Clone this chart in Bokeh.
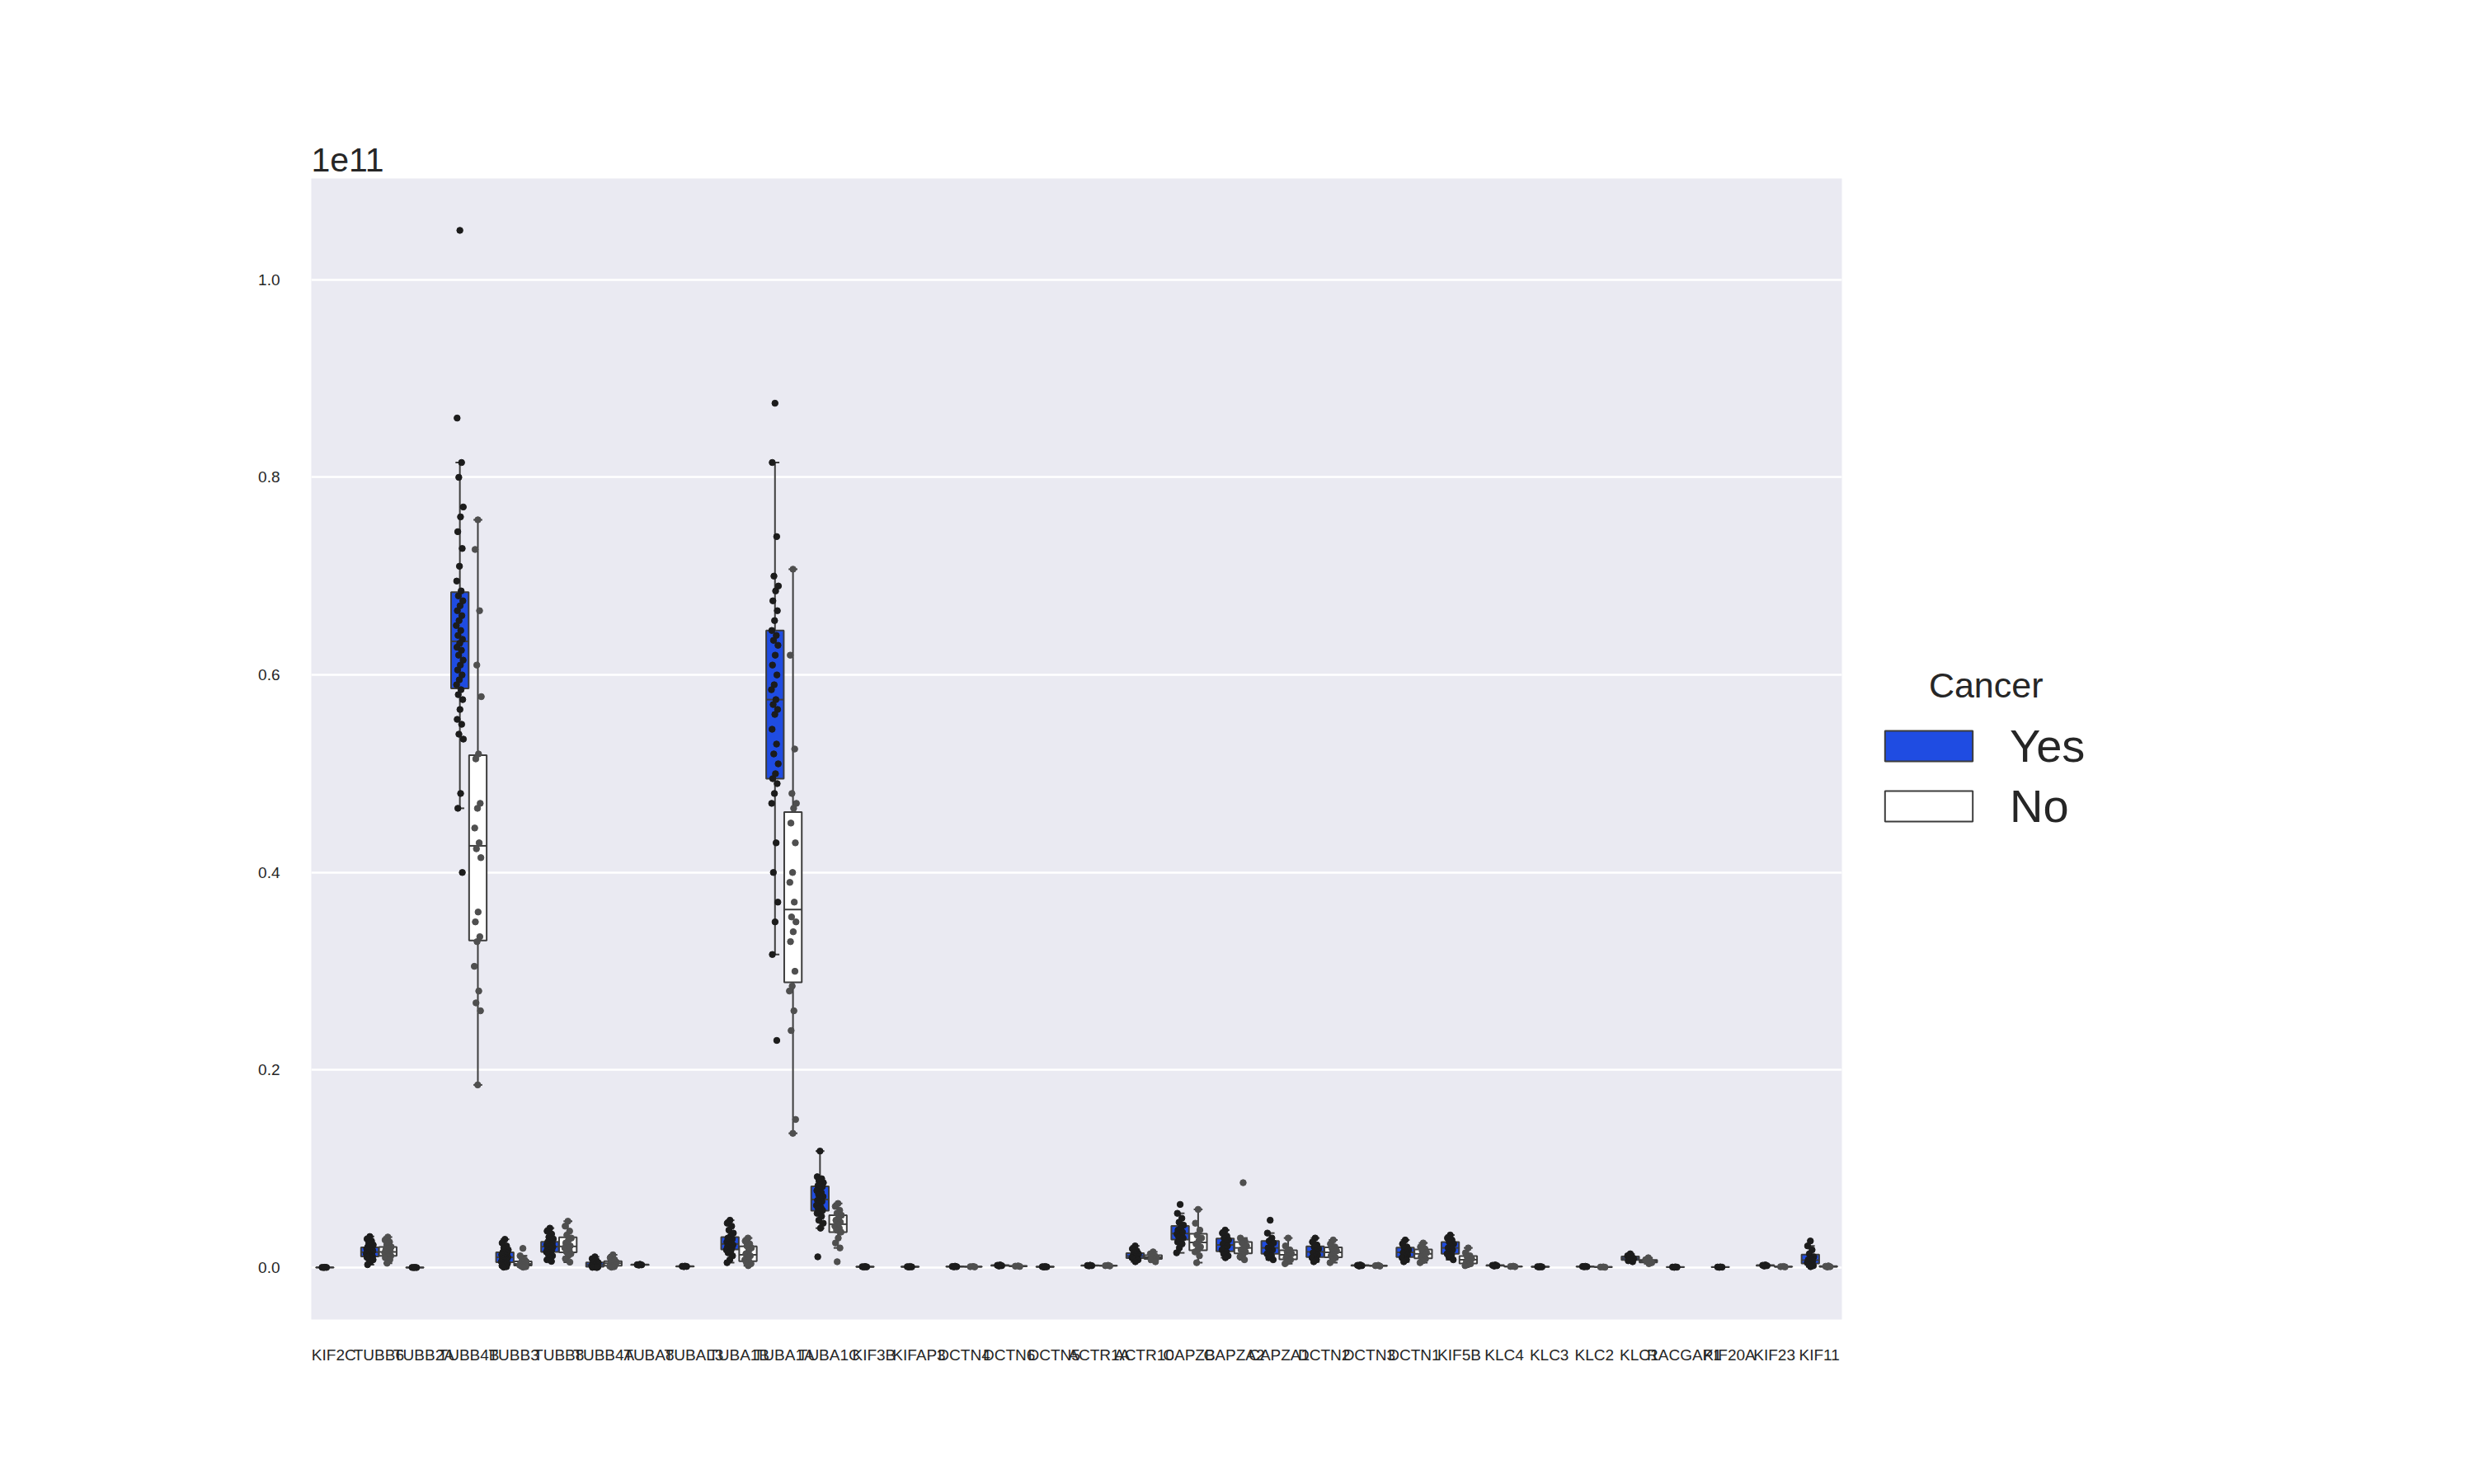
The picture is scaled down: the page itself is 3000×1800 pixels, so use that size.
import numpy as np
from bokeh.plotting import figure
from bokeh.models import Range1d, FixedTicker, Legend, LegendItem, ColumnDataSource
from bokeh.embed import file_html
from bokeh.resources import INLINE

# ---------------- data (values in units of 1e11) ----------------
genes = ["KIF2C", "TUBB6", "TUBB2A", "TUBB4B", "TUBB3", "TUBB8", "TUBB4A", "TUBA8",
         "TUBAL3", "TUBA1B", "TUBA1A", "TUBA1C", "KIF3B", "KIFAP3", "DCTN4", "DCTN6",
         "DCTN5", "ACTR1A", "ACTR10", "CAPZB", "CAPZA2", "CAPZA1", "DCTN2", "DCTN3",
         "DCTN1", "KIF5B", "KLC4", "KLC3", "KLC2", "KLC1", "RACGAP1", "KIF20A", "KIF23", "KIF11"]
hue_levels = ["Yes", "No"]
legend_title = "Cancer"

kif2c_yes = [0.0004, 0.0003, 0.0002, 0.0001]
kif2c_no = []
tubb6_yes = [0.0315, 0.029, 0.027, 0.025, 0.023, 0.022, 0.021, 0.0205, 0.02, 0.019, 0.018, 0.0175, 0.017, 0.016,
             0.0155, 0.015, 0.0145, 0.014, 0.013, 0.012, 0.0115, 0.011, 0.0105, 0.01, 0.009, 0.008, 0.006, 0.003]
tubb6_no = [0.031, 0.028, 0.026, 0.023, 0.021, 0.02, 0.018, 0.017, 0.016, 0.015, 0.014, 0.013, 0.012, 0.0115,
            0.01, 0.008, 0.0045]
tubb2a_yes = [0.0003, 0.0002, 0.0001, 0.0]
tubb2a_no = []
tubb4b_yes = [1.05, 0.86, 0.815, 0.80, 0.77, 0.76, 0.745, 0.728, 0.71, 0.695, 0.685, 0.68, 0.675, 0.67, 0.665,
              0.66, 0.655, 0.65, 0.645, 0.64, 0.636, 0.632, 0.628, 0.625, 0.62, 0.615, 0.61, 0.605, 0.60, 0.595,
              0.59, 0.585, 0.58, 0.575, 0.565, 0.555, 0.55, 0.54, 0.535, 0.48, 0.465, 0.40]
tubb4b_no = [0.757, 0.727, 0.665, 0.61, 0.578, 0.52, 0.515, 0.47, 0.465, 0.445, 0.43, 0.424, 0.415, 0.36,
             0.35, 0.335, 0.33, 0.305, 0.28, 0.268, 0.26, 0.185]
tubb3_yes = [0.0287, 0.025, 0.022, 0.02, 0.018, 0.016, 0.0155, 0.015, 0.014, 0.013, 0.012, 0.011, 0.0105, 0.01,
             0.009, 0.008, 0.007, 0.006, 0.0055, 0.005, 0.004, 0.003, 0.002, 0.001, 0.0005]
tubb3_no = [0.0195, 0.012, 0.008, 0.0065, 0.006, 0.005, 0.004, 0.0035, 0.003, 0.0025, 0.002, 0.0015, 0.001, 0.0005]
tubb8_yes = [0.040, 0.037, 0.034, 0.031, 0.029, 0.027, 0.026, 0.025, 0.024, 0.023, 0.022, 0.0215, 0.021, 0.02,
             0.019, 0.018, 0.017, 0.016, 0.0155, 0.014, 0.012, 0.01, 0.008, 0.0064]
tubb8_no = [0.047, 0.042, 0.037, 0.033, 0.03, 0.028, 0.025, 0.022, 0.021, 0.02, 0.018, 0.016, 0.014, 0.012,
            0.009, 0.0056]
tubb4a_yes = [0.011, 0.009, 0.007, 0.006, 0.005, 0.0045, 0.004, 0.003, 0.0025, 0.002, 0.0015, 0.001, 0.0008,
              0.0005, 0.0003, 0.0001]
tubb4a_no = [0.013, 0.01, 0.008, 0.006, 0.0055, 0.005, 0.004, 0.003, 0.002, 0.0015, 0.001, 0.0005]
tuba8_yes = [0.0035, 0.003, 0.0028, 0.0025]
tuba8_no = []
tubal3_yes = [0.0016, 0.0014, 0.0012, 0.001]
tubal3_no = []
tuba1b_yes = [0.048, 0.045, 0.042, 0.038, 0.035, 0.032, 0.03, 0.029, 0.028, 0.026, 0.025, 0.024, 0.023, 0.022,
              0.021, 0.02, 0.019, 0.018, 0.017, 0.015, 0.012, 0.008, 0.005]
tuba1b_no = [0.03, 0.027, 0.024, 0.022, 0.02, 0.017, 0.014, 0.012, 0.01, 0.008, 0.006, 0.005, 0.004, 0.002]
tuba1a_yes = [0.875, 0.815, 0.74, 0.70, 0.69, 0.685, 0.675, 0.665, 0.655, 0.645, 0.64, 0.635, 0.63, 0.62, 0.61,
              0.6, 0.59, 0.585, 0.575, 0.57, 0.565, 0.56, 0.545, 0.53, 0.52, 0.51, 0.50, 0.495, 0.49, 0.48,
              0.47, 0.43, 0.40, 0.37, 0.35, 0.317, 0.23]
tuba1a_no = [0.707, 0.62, 0.525, 0.48, 0.47, 0.465, 0.45, 0.43, 0.40, 0.39, 0.37, 0.355, 0.35, 0.34, 0.33,
             0.30, 0.285, 0.28, 0.26, 0.24, 0.15, 0.136]
tuba1c_yes = [0.118, 0.092, 0.09, 0.088, 0.086, 0.084, 0.083, 0.082, 0.08, 0.078, 0.076, 0.074, 0.072, 0.07,
              0.068, 0.067, 0.065, 0.063, 0.061, 0.06, 0.058, 0.057, 0.055, 0.052, 0.048, 0.045, 0.04, 0.011]
tuba1c_no = [0.065, 0.062, 0.058, 0.055, 0.053, 0.05, 0.048, 0.046, 0.044, 0.042, 0.04, 0.038, 0.036, 0.03,
             0.025, 0.02, 0.006]
kif3b_yes = [0.0012, 0.001, 0.0008, 0.0006]
kif3b_no = []
kifap3_yes = [0.0012, 0.001, 0.0008, 0.0006]
kifap3_no = []
dctn4_yes = [0.0015, 0.0012, 0.001, 0.0008]
dctn4_no = [0.0012, 0.001, 0.0008]
dctn6_yes = [0.0028, 0.0024, 0.002, 0.0016]
dctn6_no = [0.0018, 0.0015, 0.0012]
dctn5_yes = [0.0012, 0.001, 0.0008, 0.0006]
dctn5_no = []
actr1a_yes = [0.0025, 0.0022, 0.002, 0.0017]
actr1a_no = [0.0024, 0.002, 0.0017]
actr10_yes = [0.022, 0.019, 0.017, 0.015, 0.014, 0.013, 0.012, 0.0115, 0.011, 0.01, 0.0095, 0.009, 0.008, 0.006]
actr10_no = [0.016, 0.014, 0.012, 0.011, 0.01, 0.009, 0.008, 0.006]
capzb_yes = [0.064, 0.055, 0.05, 0.046, 0.043, 0.04, 0.038, 0.036, 0.035, 0.034, 0.033, 0.031, 0.03, 0.028,
             0.026, 0.024, 0.02, 0.015]
capzb_no = [0.059, 0.045, 0.038, 0.033, 0.03, 0.027, 0.024, 0.021, 0.018, 0.016, 0.012, 0.005]
capza2_yes = [0.038, 0.035, 0.032, 0.03, 0.028, 0.026, 0.024, 0.022, 0.02, 0.018, 0.016, 0.014, 0.012, 0.01]
capza2_no = [0.086, 0.03, 0.027, 0.025, 0.022, 0.02, 0.018, 0.016, 0.013, 0.011, 0.008]
capza1_yes = [0.048, 0.035, 0.03, 0.027, 0.025, 0.022, 0.02, 0.018, 0.016, 0.014, 0.012, 0.01, 0.008]
capza1_no = [0.03, 0.022, 0.018, 0.016, 0.014, 0.012, 0.01, 0.008, 0.006, 0.004]
dctn2_yes = [0.03, 0.026, 0.023, 0.021, 0.019, 0.017, 0.015, 0.013, 0.011, 0.01, 0.008, 0.006]
dctn2_no = [0.028, 0.024, 0.021, 0.019, 0.017, 0.014, 0.012, 0.01, 0.008, 0.005]
dctn3_yes = [0.0028, 0.0024, 0.002, 0.0016]
dctn3_no = [0.0024, 0.002, 0.0016]
dctn1_yes = [0.028, 0.024, 0.021, 0.02, 0.018, 0.016, 0.015, 0.013, 0.011, 0.01, 0.008, 0.006]
dctn1_no = [0.025, 0.021, 0.019, 0.017, 0.015, 0.013, 0.011, 0.009, 0.007, 0.005]
kif5b_yes = [0.033, 0.03, 0.028, 0.026, 0.024, 0.022, 0.02, 0.018, 0.016, 0.014, 0.013, 0.011, 0.008]
kif5b_no = [0.02, 0.015, 0.012, 0.011, 0.009, 0.007, 0.005, 0.004, 0.003, 0.002]
klc4_yes = [0.0028, 0.0024, 0.002, 0.0016]
klc4_no = [0.0015, 0.0012, 0.001]
klc3_yes = [0.0012, 0.001, 0.0008, 0.0006]
klc3_no = []
klc2_yes = [0.0014, 0.0012, 0.001, 0.0008]
klc2_no = [0.0008, 0.0006, 0.0004]
klc1_yes = [0.014, 0.012, 0.011, 0.01, 0.009, 0.008, 0.007, 0.006]
klc1_no = [0.01, 0.008, 0.007, 0.006, 0.005, 0.004]
racgap1_yes = [0.0008, 0.0006, 0.0005, 0.0003]
racgap1_no = []
kif20a_yes = [0.0008, 0.0006, 0.0005, 0.0003]
kif20a_no = []
kif23_yes = [0.0028, 0.0024, 0.002, 0.0016]
kif23_no = [0.0012, 0.001, 0.0008]
kif11_yes = [0.027, 0.022, 0.018, 0.014, 0.011, 0.009, 0.008, 0.007, 0.006, 0.005, 0.004, 0.003, 0.002, 0.001]
kif11_no = [0.0018, 0.0014, 0.001, 0.0006]

yes_data = [kif2c_yes, tubb6_yes, tubb2a_yes, tubb4b_yes, tubb3_yes, tubb8_yes, tubb4a_yes, tuba8_yes,
            tubal3_yes, tuba1b_yes, tuba1a_yes, tuba1c_yes, kif3b_yes, kifap3_yes, dctn4_yes, dctn6_yes,
            dctn5_yes, actr1a_yes, actr10_yes, capzb_yes, capza2_yes, capza1_yes, dctn2_yes, dctn3_yes,
            dctn1_yes, kif5b_yes, klc4_yes, klc3_yes, klc2_yes, klc1_yes, racgap1_yes, kif20a_yes, kif23_yes,
            kif11_yes]
no_data = [kif2c_no, tubb6_no, tubb2a_no, tubb4b_no, tubb3_no, tubb8_no, tubb4a_no, tuba8_no,
           tubal3_no, tuba1b_no, tuba1a_no, tuba1c_no, kif3b_no, kifap3_no, dctn4_no, dctn6_no,
           dctn5_no, actr1a_no, actr10_no, capzb_no, capza2_no, capza1_no, dctn2_no, dctn3_no,
           dctn1_no, kif5b_no, klc4_no, klc3_no, klc2_no, klc1_no, racgap1_no, kif20a_no, kif23_no,
           kif11_no]

y_ticks = [0.0, 0.2, 0.4, 0.6, 0.8, 1.0]

# ---------------- style ----------------
FONT = "Liberation Sans"
BG = "#eaeaf2"
EDGE = "#3d3d3d"
YES_FILL = "#1f4ce2"
NO_FILL = "#ffffff"
YES_PT = "#1c1c1c"
NO_PT = "#4f4f4f"
BOX_W = 0.39
DODGE = 0.2

p = figure(width=2984, height=1784, output_backend="svg", toolbar_location=None,
           x_range=Range1d(-0.5, len(genes) - 0.5), y_range=Range1d(-0.0525, 1.1025),
           min_border_left=377, min_border_right=751, min_border_top=216, min_border_bottom=184)
p.background_fill_color = BG
p.border_fill_color = "white"
p.outline_line_color = None
p.xgrid.grid_line_color = None
p.ygrid.grid_line_color = "white"
p.ygrid.grid_line_width = 2.5
p.ygrid.ticker = FixedTicker(ticks=y_ticks)

p.xaxis.ticker = FixedTicker(ticks=list(range(len(genes))))
p.xaxis.major_label_overrides = {i: g for i, g in enumerate(genes)}
p.yaxis.ticker = FixedTicker(ticks=y_ticks)
p.yaxis.major_label_overrides = {t: f"{t:.1f}" for t in y_ticks}
for ax in (p.xaxis[0], p.yaxis[0]):
    ax.axis_line_color = None
    ax.major_tick_line_color = None
    ax.minor_tick_line_color = None
    ax.major_label_text_font = FONT
    ax.major_label_text_color = "#262626"
    ax.major_label_text_font_size = "19px"
p.xaxis.major_label_standoff = 26
p.yaxis.major_label_standoff = 32

p.title.text = "1e11"
p.title.align = "left"
p.title.text_font = FONT
p.title.text_font_size = "41px"
p.title.text_font_style = "normal"
p.title.text_color = "#262626"
p.title.standoff = 18


def stats(v):
    a = np.asarray(v, dtype=float)
    q1, med, q3 = np.percentile(a, [25, 50, 75])
    iqr = q3 - q1
    lo = a[a >= q1 - 1.5 * iqr].min()
    hi = a[a <= q3 + 1.5 * iqr].max()
    return q1, med, q3, lo, hi


box_renderers = {}
for level, datasets, fill, ptcol, off in (("Yes", yes_data, YES_FILL, YES_PT, -DODGE),
                                          ("No", no_data, NO_FILL, NO_PT, DODGE)):
    bx = dict(x=[], q1=[], med=[], q3=[], lo=[], hi=[])
    px, py = [], []
    for i, vals in enumerate(datasets):
        if len(vals) == 0:
            continue
        q1, med, q3, lo, hi = stats(vals)
        xc = i + off
        bx["x"].append(xc); bx["q1"].append(q1); bx["med"].append(med)
        bx["q3"].append(q3); bx["lo"].append(lo); bx["hi"].append(hi)
        for k, v in enumerate(vals):
            jit = (((k * 0.618034) + 0.5) % 1.0 - 0.5) * 0.16
            px.append(xc + jit); py.append(v)
    src = ColumnDataSource(dict(
        x=bx["x"], q1=bx["q1"], med=bx["med"], q3=bx["q3"], lo=bx["lo"], hi=bx["hi"],
        left=[x - BOX_W / 2 for x in bx["x"]], right=[x + BOX_W / 2 for x in bx["x"]],
        cl=[x - BOX_W / 4 for x in bx["x"]], cr=[x + BOX_W / 4 for x in bx["x"]]))
    p.segment(x0="x", y0="q3", x1="x", y1="hi", source=src, line_color=EDGE, line_width=2)
    p.segment(x0="x", y0="q1", x1="x", y1="lo", source=src, line_color=EDGE, line_width=2)
    p.segment(x0="cl", y0="hi", x1="cr", y1="hi", source=src, line_color=EDGE, line_width=2)
    p.segment(x0="cl", y0="lo", x1="cr", y1="lo", source=src, line_color=EDGE, line_width=2)
    r = p.quad(left="left", right="right", bottom="q1", top="q3", source=src,
               fill_color=fill, line_color=EDGE, line_width=2)
    p.segment(x0="left", y0="med", x1="right", y1="med", source=src, line_color=EDGE, line_width=2)
    box_renderers[level] = r
    p.scatter(x=px, y=py, marker="circle", size=7.5, fill_color=ptcol, line_color=ptcol)

legend = Legend(items=[LegendItem(label=lv, renderers=[box_renderers[lv]]) for lv in hue_levels],
                location="center_left", orientation="vertical")
legend.title = "\u00a0" * 5 + "\u2006" + legend_title
legend.title_text_font = FONT
legend.title_text_font_size = "43px"
legend.title_text_font_style = "normal"
legend.title_text_color = "#262626"
legend.title_standoff = 16
legend.label_text_font = FONT
legend.label_text_font_size = "56px"
legend.label_text_color = "#262626"
legend.glyph_width = 133
legend.glyph_height = 46
legend.label_standoff = 32
legend.spacing = 8
legend.padding = 6
legend.margin = 39
legend.border_line_color = None
legend.background_fill_alpha = 0
p.add_layout(legend, "right")

open("out.html", "w").write(file_html(p, INLINE))
